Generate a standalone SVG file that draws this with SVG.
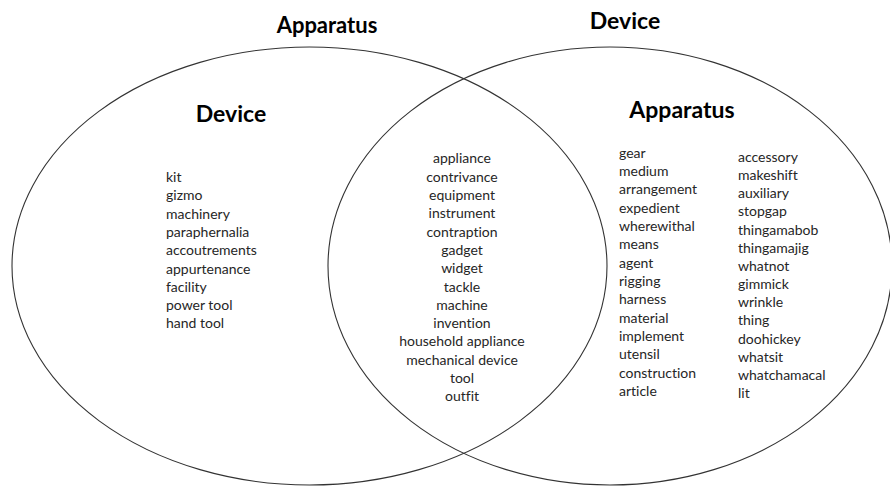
<svg xmlns="http://www.w3.org/2000/svg" width="890" height="486" viewBox="0 0 890 486">
<style>
.ell{fill:none;stroke:#333;stroke-width:1.1}
.t{font-family:Lato,"Liberation Sans",sans-serif;font-weight:bold;font-size:23px;fill:#000}
.w{font-family:Lato,"Liberation Sans",sans-serif;font-size:14px;fill:#262626;font-variant-ligatures:none}
.c{text-anchor:middle}
</style>
<rect width="890" height="486" fill="#fff"/>
<g id="connectors"></g>
<g id="set-left">
<ellipse class="ell" cx="309.5" cy="266" rx="297.5" ry="219"/>
<text class="t c" x="327" y="33" style="font-size:22px">Apparatus</text>
<text class="t c" x="231" y="122">Device</text>
<text class="w" x="166" y="182">kit<tspan x="166" dy="18.3">gizmo</tspan><tspan x="166" dy="18.3">machinery</tspan><tspan x="166" dy="18.3">paraphernalia</tspan><tspan x="166" dy="18.3">accoutrements</tspan><tspan x="166" dy="18.3">appurtenance</tspan><tspan x="166" dy="18.3">facility</tspan><tspan x="166" dy="18.3">power tool</tspan><tspan x="166" dy="18.3">hand tool</tspan></text>
</g>
<g id="set-right">
<ellipse class="ell" cx="610" cy="266" rx="282" ry="219"/>
<text class="t c" x="625" y="29">Device</text>
<text class="t c" x="682" y="118">Apparatus</text>
<text class="w" x="619" y="157.5">gear<tspan x="619" dy="18.35">medium</tspan><tspan x="619" dy="18.35">arrangement</tspan><tspan x="619" dy="18.35">expedient</tspan><tspan x="619" dy="18.35">wherewithal</tspan><tspan x="619" dy="18.35">means</tspan><tspan x="619" dy="18.35">agent</tspan><tspan x="619" dy="18.35">rigging</tspan><tspan x="619" dy="18.35">harness</tspan><tspan x="619" dy="18.35">material</tspan><tspan x="619" dy="18.35">implement</tspan><tspan x="619" dy="18.35">utensil</tspan><tspan x="619" dy="18.35">construction</tspan><tspan x="619" dy="18.35">article</tspan></text>
<text class="w" x="738" y="162">accessory<tspan x="738" dy="18.15">makeshift</tspan><tspan x="738" dy="18.15">auxiliary</tspan><tspan x="738" dy="18.15">stopgap</tspan><tspan x="738" dy="18.15">thingamabob</tspan><tspan x="738" dy="18.15">thingamajig</tspan><tspan x="738" dy="18.15">whatnot</tspan><tspan x="738" dy="18.15">gimmick</tspan><tspan x="738" dy="18.15">wrinkle</tspan><tspan x="738" dy="18.15">thing</tspan><tspan x="738" dy="18.15">doohickey</tspan><tspan x="738" dy="18.15">whatsit</tspan><tspan x="738" dy="18.15">whatchamacal</tspan><tspan x="738" dy="18.15">lit</tspan></text>
</g>
<g id="overlap">
<text class="w c" x="462" y="163.4">appliance<tspan x="462" dy="18.3">contrivance</tspan><tspan x="462" dy="18.3">equipment</tspan><tspan x="462" dy="18.3">instrument</tspan><tspan x="462" dy="18.3">contraption</tspan><tspan x="462" dy="18.3">gadget</tspan><tspan x="462" dy="18.3">widget</tspan><tspan x="462" dy="18.3">tackle</tspan><tspan x="462" dy="18.3">machine</tspan><tspan x="462" dy="18.3">invention</tspan><tspan x="462" dy="18.3">household appliance</tspan><tspan x="462" dy="18.3">mechanical device</tspan><tspan x="462" dy="18.3">tool</tspan><tspan x="462" dy="18.3">outfit</tspan></text>
</g>
</svg>
